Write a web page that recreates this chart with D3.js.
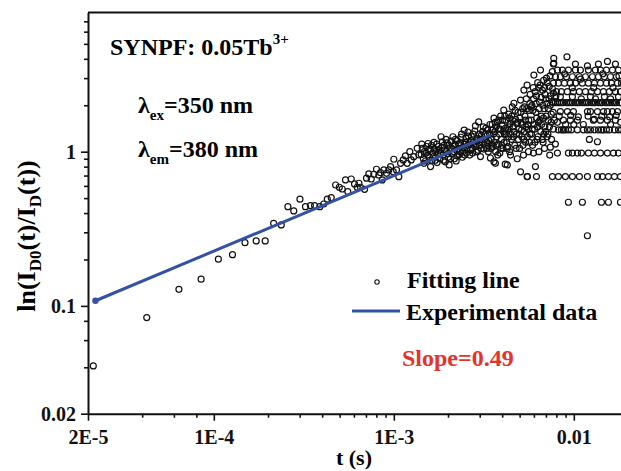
<!DOCTYPE html>
<html>
<head>
<meta charset="utf-8">
<script src="https://cdn.jsdelivr.net/npm/d3@7"></script>
<style>
  body { margin: 0; background: #fff; }
  svg { display: block; font-family: "Liberation Serif", "Times New Roman", serif; font-weight: bold; }
</style>
</head>
<body>
<svg id="chart" width="621" height="471"></svg>
<script>
// times are in ms, values are ln(ID0(t)/ID(t))
const earlyPts = [
  [0.0214, 0.0408], [0.0424, 0.084], [0.064, 0.128], [0.085, 0.149], [0.106, 0.201], [0.127, 0.215],
  [0.149, 0.257], [0.172, 0.264], [0.193, 0.264], [0.215, 0.343], [0.237, 0.335], [0.258, 0.44],
  [0.278, 0.413], [0.301, 0.492], [0.323, 0.44], [0.344, 0.447], [0.363, 0.447], [0.388, 0.44],
  [0.408, 0.458], [0.427, 0.492], [0.449, 0.503], [0.475, 0.608], [0.498, 0.588], [0.517, 0.573],
  [0.539, 0.656], [0.555, 0.551], [0.58, 0.665], [0.605, 0.618], [0.626, 0.588], [0.64, 0.624],
  [0.653, 0.588], [0.688, 0.57], [0.705, 0.673], [0.726, 0.717], [0.749, 0.665], [0.774, 0.714],
  [0.801, 0.769], [0.826, 0.706], [0.844, 0.731], [0.862, 0.656], [0.88, 0.761], [0.911, 0.724],
  [0.938, 0.761], [0.959, 0.8], [0.992, 0.742], [1.0, 0.893], [1.035, 0.761], [1.066, 0.689],
  [1.09, 0.841], [1.128, 0.884], [1.16, 0.938], [1.187, 0.841], [1.227, 1.0], [1.249, 0.884],
  [1.29, 0.928], [1.349, 1.052], [1.377, 0.952]
];

// the band that follows the fit, 1.4 - 3.5 ms
const bandPts = [
  [1.42, 0.96], [1.43, 1.12], [1.44, 1.05], [1.46, 0.9], [1.47, 0.84], [1.48, 1.0], [1.50, 0.87],
  [1.51, 0.98], [1.52, 1.08], [1.54, 0.95], [1.55, 1.13], [1.56, 1.02], [1.58, 0.92], [1.59, 1.04],
  [1.60, 0.8], [1.62, 1.1], [1.63, 0.88], [1.64, 0.98], [1.66, 0.93], [1.67, 1.15], [1.68, 1.04],
  [1.70, 0.88], [1.71, 1.0], [1.73, 1.12], [1.74, 0.85], [1.75, 0.97], [1.77, 1.08], [1.78, 1.02],
  [1.80, 0.9], [1.81, 0.98], [1.83, 1.25], [1.85, 1.06], [1.86, 1.16], [1.88, 0.95], [1.89, 0.88],
  [1.90, 1.1], [1.92, 1.03], [1.93, 0.86], [1.95, 1.2], [1.96, 1.0], [1.98, 1.14], [1.99, 0.97],
  [2.01, 0.92], [2.02, 1.1], [2.03, 0.82], [2.05, 1.06], [2.06, 0.9], [2.08, 1.17], [2.1, 1.05],
  [2.11, 0.97], [2.13, 1.25], [2.14, 1.08], [2.16, 1.0], [2.17, 0.9], [2.19, 1.12], [2.2, 1.2],
  [2.22, 0.87], [2.23, 1.02], [2.25, 1.18], [2.26, 0.94], [2.28, 1.04], [2.3, 1.12], [2.31, 0.96],
  [2.33, 1.0], [2.35, 1.14], [2.36, 1.24], [2.38, 1.3], [2.4, 0.92], [2.42, 1.0], [2.43, 1.06],
  [2.45, 1.12], [2.46, 1.38], [2.48, 0.95], [2.5, 1.15], [2.52, 1.22], [2.53, 0.98], [2.55, 1.05],
  [2.57, 1.1], [2.58, 1.34], [2.6, 1.26], [2.62, 1.12], [2.64, 0.95], [2.66, 1.02], [2.68, 1.18],
  [2.7, 1.25], [2.72, 1.05], [2.74, 0.98], [2.76, 1.3], [2.78, 1.15], [2.8, 1.12], [2.82, 1.36],
  [2.84, 1.47], [2.86, 1.08], [2.88, 1.0], [2.9, 1.18], [2.92, 1.22], [2.94, 1.02], [2.96, 1.56],
  [2.98, 1.3], [3.0, 1.1], [3.02, 1.2], [3.03, 0.93], [3.05, 1.05], [3.07, 1.28], [3.1, 1.15],
  [3.12, 1.35], [3.14, 1.45], [3.16, 1.04], [3.18, 1.1], [3.2, 1.2], [3.22, 1.3], [3.25, 1.42],
  [3.28, 1.05], [3.3, 1.15], [3.32, 1.38], [3.35, 1.0], [3.37, 1.18], [3.4, 1.3], [3.42, 1.5],
  [3.44, 0.91], [3.46, 1.05]
];

// the wide cloud, 3.5 - 8 ms
const cloudPts = [
  [3.48, 1.2], [3.5, 1.12], [3.52, 1.5], [3.54, 1.38], [3.56, 1.08], [3.58, 1.3], [3.6, 1.65],
  [3.6, 0.86], [3.62, 1.15], [3.64, 1.35], [3.66, 1.55], [3.67, 0.84], [3.68, 1.0], [3.7, 1.45],
  [3.72, 1.25], [3.74, 1.1], [3.76, 1.55], [3.78, 0.95], [3.8, 1.12], [3.82, 1.6], [3.84, 1.4],
  [3.86, 1.3], [3.88, 0.98], [3.9, 1.4], [3.92, 1.7], [3.94, 1.05], [3.96, 1.2], [3.98, 1.1],
  [4.0, 1.48], [4.02, 1.6], [4.04, 1.05], [4.06, 1.35], [4.08, 1.86], [4.1, 1.15], [4.12, 1.3],
  [4.14, 1.7], [4.16, 0.83], [4.18, 1.42], [4.2, 1.6], [4.22, 1.3], [4.24, 1.15], [4.26, 1.05],
  [4.27, 0.82], [4.3, 1.38], [4.3, 1.08], [4.34, 1.25], [4.35, 1.75], [4.38, 1.45], [4.4, 1.0],
  [4.4, 1.65], [4.42, 1.52], [4.45, 0.95], [4.46, 1.3], [4.5, 1.2], [4.52, 1.7], [4.55, 1.95],
  [4.58, 1.6], [4.6, 1.45], [4.62, 1.25], [4.65, 2.06], [4.68, 1.35], [4.7, 1.1], [4.72, 1.85],
  [4.75, 1.62], [4.78, 1.05], [4.8, 1.3], [4.82, 1.52], [4.85, 0.9], [4.88, 1.55], [4.9, 1.8],
  [4.92, 1.2], [4.95, 1.4], [4.98, 1.3], [5.0, 1.05], [5.02, 1.65], [5.06, 2.16], [5.06, 0.74],
  [5.08, 1.8], [5.1, 1.55], [5.12, 1.38], [5.15, 1.25], [5.18, 1.5], [5.2, 1.9], [5.22, 1.1],
  [5.25, 0.95], [5.28, 2.51], [5.28, 1.2], [5.3, 1.35], [5.32, 1.95], [5.35, 1.7], [5.38, 1.6],
  [5.4, 1.15], [5.42, 1.45], [5.45, 2.2], [5.48, 1.9], [5.5, 2.7], [5.5, 0.69], [5.52, 1.25],
  [5.55, 1.5], [5.58, 1.4], [5.6, 1.0], [5.62, 1.6], [5.65, 1.85], [5.68, 1.15], [5.7, 1.3],
  [5.7, 2.05], [5.72, 2.35], [5.78, 1.95], [5.8, 1.6], [5.82, 1.3], [5.85, 2.0], [5.88, 1.4],
  [5.9, 1.1], [5.92, 1.85], [5.95, 2.6], [5.97, 0.98], [5.98, 2.2], [6.0, 3.14], [6.02, 1.5],
  [6.05, 1.4], [6.08, 1.15], [6.1, 2.45], [6.12, 0.8], [6.15, 1.8], [6.18, 2.05], [6.2, 2.3],
  [6.22, 1.65], [6.25, 1.2], [6.28, 1.45], [6.3, 2.8], [6.32, 1.25], [6.35, 1.55], [6.38, 2.6],
  [6.4, 1.0], [6.42, 1.9], [6.45, 2.1], [6.48, 1.6], [6.5, 2.7], [6.53, 3.38], [6.55, 1.35],
  [6.58, 2.25], [6.6, 1.7], [6.62, 1.5], [6.68, 1.2], [6.7, 2.5], [6.72, 2.0], [6.75, 1.15],
  [6.78, 1.65], [6.8, 2.9], [6.82, 1.3], [6.85, 1.9], [6.87, 1.05], [6.88, 2.6], [6.9, 1.45],
  [6.92, 2.35], [6.98, 1.35], [7.0, 2.2], [7.02, 1.7], [7.05, 3.0], [7.08, 2.05], [7.1, 1.25],
  [7.12, 2.8], [7.18, 1.3], [7.2, 1.6], [7.22, 1.9], [7.28, 2.2], [7.3, 2.65], [7.32, 1.45],
  [7.35, 0.95], [7.38, 3.1], [7.4, 2.0], [7.41, 1.07], [7.42, 2.3], [7.48, 1.55], [7.5, 1.75],
  [7.52, 1.2], [7.58, 2.1], [7.6, 3.3], [7.62, 2.55], [7.68, 1.8], [7.7, 1.4], [7.7, 2.4],
  [7.74, 4.03], [7.74, 3.74], [7.8, 1.6], [7.9, 1.12], [7.95, 2.3], [8.1, 1.55]
];

// scattered late points between the levels
const latePts = [
  [8.3, 1.7], [9.0, 1.5], [9.6, 1.72], [10.6, 1.68], [11.3, 1.5], [12.0, 1.7], [13.0, 1.62],
  [14.3, 1.7], [15.8, 1.68], [17.2, 1.72], [18.2, 1.55], [8.9, 3.2], [9.8, 2.6], [10.9, 2.95],
  [11.9, 3.6], [12.9, 2.6], [14.5, 3.2], [16.5, 2.6], [17.8, 3.1], [11.0, 2.2], [13.2, 2.2],
  [16.0, 2.2], [9.16, 4.12], [15.37, 3.85], [13.53, 1.16], [12.2, 1.2], [10.0, 1.5], [16.0, 1.5]
];

// late decay: values fall on discrete levels
const bandLevels = [2.08, 1.386, 0.98, 0.69, 0.47, 0.285, 3.7, 3.38, 3.06, 2.78, 2.45, 2.27, 1.82, 1.6];
const bandTimes = [
  [7.70, 7.90, 8.11, 8.32, 8.53, 8.75, 9.10, 9.33, 9.57, 9.82, 10.21, 10.47, 10.74, 11.16, 11.45, 11.75,
   12.05, 12.53, 12.85, 13.18, 13.70, 14.06, 14.42, 14.99, 15.37, 15.77, 16.39, 16.82, 17.25, 17.93, 18.40],
  [8.21, 8.53, 8.75, 8.98, 9.33, 9.70, 10.47, 11.31, 11.90, 12.37, 13.02, 13.70, 14.24, 14.61, 15.18,
   15.77, 16.82, 17.70, 18.40],
  [8.11, 9.33, 9.82, 10.47, 11.02, 12.05, 13.02, 14.06, 15.37, 16.60, 17.70],
  [5.53, 6.20, 7.60, 8.21, 8.98, 9.82, 10.74, 11.90, 13.53, 14.42, 15.57, 16.82, 18.16],
  [9.33, 11.16, 14.24, 15.57, 18.16],
  [11.90],
  [7.70, 10.21, 13.70, 17.03],
  [8.11, 8.64, 9.33, 10.21, 10.88, 12.05, 13.18, 14.06, 15.18, 16.39, 17.70],
  [7.90, 8.42, 9.10, 9.82, 10.74, 11.60, 12.69, 13.70, 14.79, 15.98, 17.25],
  [7.70, 8.21, 8.87, 9.57, 10.21, 11.16, 12.05, 13.02, 14.06, 15.18, 16.18, 17.48, 18.40],
  [8.00, 8.53, 9.21, 9.95, 10.74, 11.60, 12.53, 13.53, 14.61, 15.77, 17.03, 18.16],
  [8.42, 9.82, 12.37, 14.79, 17.70],
  [8.42, 9.21, 9.95, 11.90, 12.37, 13.53, 14.61, 15.37, 16.39, 17.48],
  [8.75, 9.57, 10.47, 12.85, 14.06, 15.37, 17.03]
];

// fitted power law, slope 0.49
const fitT = [0.022, 3.44];
const fitV = [0.108, 1.28];

const xMajor = [2e-5, 1e-4, 1e-3, 1e-2];
const xLabels = ['2E-5', '1E-4', '1E-3', '0.01'];
const xMinor = [4e-5, 6e-5, 8e-5, 2e-4, 3e-4, 4e-4, 5e-4, 6e-4, 7e-4, 8e-4, 9e-4,
  2e-3, 3e-3, 4e-3, 5e-3, 6e-3, 7e-3, 8e-3, 9e-3];
const yMajor = [0.02, 0.1, 1];
const yLabels = ['0.02', '0.1', '1'];
const yMinor = [0.04, 0.06, 0.08, 0.2, 0.3, 0.4, 0.5, 0.6, 0.7, 0.8, 0.9, 2, 3, 4, 5, 6, 7];

const svg = d3.select('#chart');
const x = d3.scaleLog().domain([2e-5, 0.02]).range([88, 628]);
const y = d3.scaleLog().domain([0.02, 8]).range([413.7, 12.4]);
const blue = '#3452a4';

// all scatter points
const pts = earlyPts.concat(bandPts, cloudPts, latePts);
bandLevels.forEach((v, i) => bandTimes[i].forEach(t => pts.push([t, v])));

svg.append('g')
  .selectAll('circle')
  .data(pts)
  .enter()
  .append('circle')
  .attr('cx', d => x(d[0] / 1000))
  .attr('cy', d => y(d[1]))
  .attr('r', 3)
  .attr('fill', 'none')
  .attr('stroke', '#111')
  .attr('stroke-width', 1.2);

// fit line
const fit = fitT.map((t, i) => [t / 1000, fitV[i]]);
svg.append('path')
  .attr('d', d3.line().x(d => x(d[0])).y(d => y(d[1]))(fit))
  .attr('stroke', blue)
  .attr('stroke-width', 3)
  .attr('fill', 'none');
svg.append('circle')
  .attr('cx', x(fit[0][0]))
  .attr('cy', y(fit[0][1]))
  .attr('r', 3.2)
  .attr('fill', blue);

// axes
function styleAxis(g) {
  g.attr('font-family', null).attr('font-size', null);
  g.select('.domain').attr('stroke-width', 2).attr('stroke', '#111');
  g.selectAll('.tick line').attr('stroke-width', 1.6).attr('stroke', '#111');
  g.selectAll('.tick text').attr('font-size', 20).attr('fill', '#111');
}

svg.append('g')
  .attr('transform', `translate(0,${y.range()[0]})`)
  .call(d3.axisBottom(x).tickValues(xMinor).tickSize(4).tickFormat(''))
  .call(styleAxis)
  .call(g => g.select('.domain').remove());
svg.append('g')
  .attr('transform', `translate(0,${y.range()[0]})`)
  .call(d3.axisBottom(x).tickValues(xMajor).tickSize(7).tickSizeOuter(0).tickPadding(9)
    .tickFormat((d, i) => xLabels[i]))
  .call(styleAxis);

svg.append('g')
  .attr('transform', `translate(${x.range()[0]},0)`)
  .call(d3.axisLeft(y).tickValues(yMinor).tickSize(4).tickFormat(''))
  .call(styleAxis)
  .call(g => g.select('.domain').remove());
svg.append('g')
  .attr('transform', `translate(${x.range()[0]},0)`)
  .call(d3.axisLeft(y).tickValues(yMajor).tickSize(7).tickSizeOuter(0).tickPadding(5)
    .tickFormat((d, i) => yLabels[i]))
  .call(styleAxis);

// top frame
svg.append('line')
  .attr('x1', x.range()[0]).attr('x2', x.range()[1])
  .attr('y1', y.range()[1]).attr('y2', y.range()[1])
  .attr('stroke', '#111').attr('stroke-width', 2);

// axis titles
svg.append('text')
  .attr('x', 354).attr('y', 465)
  .attr('text-anchor', 'middle')
  .attr('font-size', 22)
  .text('t (s)');

const yt = svg.append('text')
  .attr('transform', 'translate(35,236) rotate(-90)')
  .attr('text-anchor', 'middle')
  .attr('font-size', 26);
yt.append('tspan').text('ln(I');
yt.append('tspan').attr('font-size', 17).attr('dy', 6).text('D0');
yt.append('tspan').attr('dy', -6).text('(t)/I');
yt.append('tspan').attr('font-size', 17).attr('dy', 6).text('D');
yt.append('tspan').attr('dy', -6).text('(t))');

// annotations
const t1 = svg.append('text').attr('x', 110).attr('y', 55).attr('font-size', 24);
t1.append('tspan').text('SYNPF: 0.05Tb');
t1.append('tspan').attr('font-size', 15).attr('dy', -11).text('3+');

const t2 = svg.append('text').attr('x', 138).attr('y', 113).attr('font-size', 24);
t2.append('tspan').text('λ');
t2.append('tspan').attr('font-size', 15).attr('dy', 7).text('ex');
t2.append('tspan').attr('dy', -7).text('=350 nm');

const t3 = svg.append('text').attr('x', 138).attr('y', 157).attr('font-size', 24);
t3.append('tspan').text('λ');
t3.append('tspan').attr('font-size', 15).attr('dy', 7).text('em');
t3.append('tspan').attr('dy', -7).text('=380 nm');

// legend
svg.append('circle')
  .attr('cx', 377).attr('cy', 282).attr('r', 2.2)
  .attr('fill', 'none').attr('stroke', '#111').attr('stroke-width', 1.1);
svg.append('text').attr('x', 407).attr('y', 288).attr('font-size', 24).text('Fitting line');
svg.append('line')
  .attr('x1', 352).attr('x2', 400).attr('y1', 311).attr('y2', 311)
  .attr('stroke', blue).attr('stroke-width', 3);
svg.append('text').attr('x', 406).attr('y', 319.5).attr('font-size', 24).text('Experimental data');

svg.append('text')
  .attr('x', 402).attr('y', 366)
  .attr('font-size', 24)
  .attr('fill', '#e6332a')
  .text('Slope=0.49');
</script>
</body>
</html>
